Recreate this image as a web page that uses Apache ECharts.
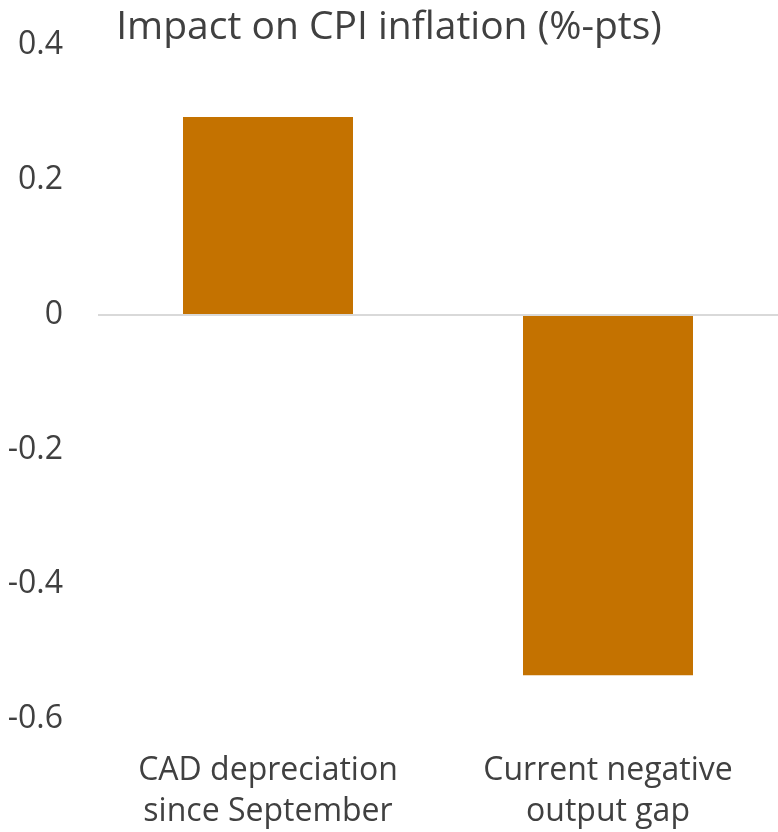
<!DOCTYPE html>
<html>
<head>
<meta charset="utf-8">
<script src="https://cdn.jsdelivr.net/npm/echarts@6/dist/echarts.min.js"></script>
<style>
  html, body { margin: 0; padding: 0; background: #fff; }
  #chart { width: 778px; height: 832px; }
</style>
</head>
<body>
<div id="chart"></div>
<script>
// data
var categories = ["CAD depreciation\nsince September", "Current negative\noutput gap"];
var impact = [0.293, -0.535];

var chart = echarts.init(document.getElementById("chart"));
var font = "'Open Sans', sans-serif";
var option = {
  animation: false,
  title: {
    text: "Impact on CPI inflation (%-pts)",
    left: "center",
    top: 3,
    textStyle: {
      color: "#404040",
      fontFamily: font,
      fontWeight: "normal",
      fontSize: 39
    }
  },
  grid: {
    left: 98,
    width: 684,
    top: 45,
    bottom: 112,
    containLabel: false
  },
  xAxis: {
    type: "category",
    data: categories,
    axisLine: { show: false, onZero: false },
    axisTick: { show: false },
    axisLabel: {
      color: "#404040",
      fontFamily: font,
      fontSize: 32,
      lineHeight: 41,
      margin: 31
    }
  },
  yAxis: {
    type: "value",
    min: -0.6,
    max: 0.4,
    interval: 0.2,
    axisLine: { show: false },
    axisTick: { show: false },
    splitLine: { show: false },
    axisLabel: {
      color: "#404040",
      fontFamily: font,
      fontSize: 32,
      margin: 35,
      formatter: function (v) {
        return String(Math.round(v * 10) / 10);
      }
    }
  },
  series: [
    {
      type: "bar",
      data: impact,
      barWidth: "50%",
      itemStyle: { color: "#c47200" },
      markLine: {
        silent: true,
        symbol: "none",
        label: { show: false },
        lineStyle: { color: "#d9d9d9", type: "solid", width: 2 },
        data: [{ yAxis: 0 }]
      }
    }
  ]
};
chart.setOption(option);
</script>
</body>
</html>
